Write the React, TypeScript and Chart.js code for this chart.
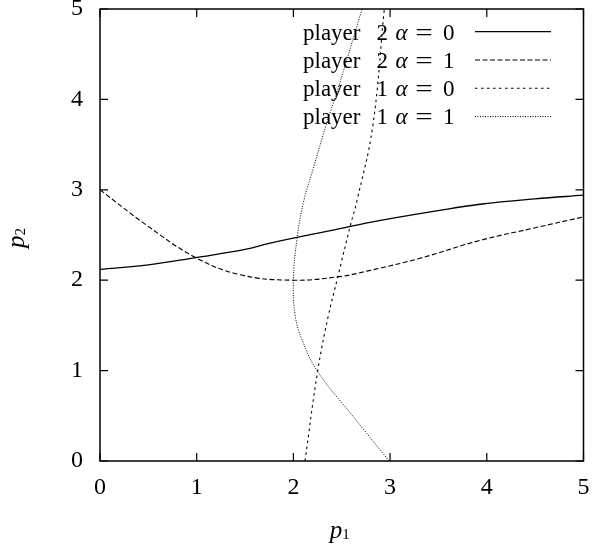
import React, { useEffect, useRef } from "react";
import { Chart, registerables } from "chart.js";

Chart.register(...registerables);

const xTicks = [0, 1, 2, 3, 4, 5];
const yTicks = [0, 1, 2, 3, 4, 5];

const p2a0X = [0, 0.5, 0.99, 1.5, 1.76, 2.48, 2.79, 3.5, 3.93, 4.5, 5];
const p2a0Y = [2.12, 2.17, 2.25, 2.34, 2.41, 2.57, 2.64, 2.77, 2.84, 2.9, 2.94];

const p2a1X = [0, 0.48, 0.99, 1.45, 2.0, 2.48, 2.76, 3.3, 3.93, 4.5, 5];
const p2a1Y = [3.0, 2.61, 2.25, 2.06, 2.0, 2.04, 2.1, 2.24, 2.44, 2.58, 2.7];

const p1a0X = [2.12, 2.25, 2.36, 2.46, 2.59, 2.66, 2.82, 2.94];
const p1a0Y = [0, 0.99, 1.6, 2.04, 2.61, 2.89, 3.7, 5.0];

const p1a1X = [2.99, 2.62, 2.25, 2.09, 2.02, 2.0, 2.04, 2.11, 2.19, 2.34, 2.47, 2.71];
const p1a1Y = [0, 0.49, 0.99, 1.34, 1.6, 2.0, 2.48, 2.89, 3.18, 3.72, 4.15, 5.0];

const seriesNames = ["player 2", "player 2", "player 1", "player 1"];
const alphaValues = ["0", "1", "0", "1"];

const SERIF = "'Liberation Serif', 'DejaVu Serif', serif";

function pts(xs: number[], ys: number[]) {
  return xs.map((x, i) => ({ x, y: ys[i] }));
}

const framePlugin = {
  id: "framePlugin",
  afterDatasetsDraw(chart: any) {
    const { ctx, chartArea: a, scales } = chart;
    ctx.save();
    ctx.strokeStyle = "#000";
    ctx.lineWidth = 1.5;
    ctx.setLineDash([]);
    ctx.strokeRect(a.left, a.top, a.right - a.left, a.bottom - a.top);
    ctx.lineWidth = 1.2;
    const tl = 8;
    ctx.beginPath();
    xTicks.forEach((v) => {
      const px = scales.x.getPixelForValue(v);
      ctx.moveTo(px, a.bottom);
      ctx.lineTo(px, a.bottom - tl);
      ctx.moveTo(px, a.top);
      ctx.lineTo(px, a.top + tl);
    });
    yTicks.forEach((v) => {
      const py = scales.y.getPixelForValue(v);
      ctx.moveTo(a.left, py);
      ctx.lineTo(a.left + tl, py);
      ctx.moveTo(a.right, py);
      ctx.lineTo(a.right - tl, py);
    });
    ctx.stroke();
    ctx.restore();
  },
  afterDraw(chart: any) {
    const { ctx, chartArea: a } = chart;
    ctx.save();
    ctx.fillStyle = "#000";
    ctx.textBaseline = "alphabetic";
    ctx.textAlign = "left";
    // x title p_1
    ctx.font = `italic 25px ${SERIF}`;
    const px0 = (a.left + a.right) / 2 - 12;
    ctx.fillText("p", px0, 537.5);
    const pw = ctx.measureText("p").width;
    ctx.font = `15px ${SERIF}`;
    ctx.fillText("1", px0 + pw, 539);
    // y title p_2 rotated
    ctx.save();
    ctx.translate(23.5, (a.top + a.bottom) / 2 + 13);
    ctx.rotate(-Math.PI / 2);
    ctx.font = `italic 25px ${SERIF}`;
    ctx.fillText("p", 0, 0);
    const pw2 = ctx.measureText("p").width;
    ctx.font = `15px ${SERIF}`;
    ctx.fillText("2", pw2, 1.5);
    ctx.restore();

    // legend
    const left = 303;
    const rowY0 = 31.7;
    const rowStep = 28.3;
    chart.data.datasets.forEach((ds: any, i: number) => {
      const y = rowY0 + i * rowStep;
      const base = y + 7.8;
      ctx.font = `23px ${SERIF}`;
      ctx.textAlign = "left";
      ctx.fillText("player", left, base);
      ctx.fillText(seriesNames[i].split(" ")[1], left + 73.5, base);
      ctx.font = `italic 23px ${SERIF}`;
      ctx.fillText("α", left + 92.5, base);
      ctx.font = `23px ${SERIF}`;
      ctx.textAlign = "center";
      ctx.save();
      ctx.translate(left + 121, base);
      ctx.scale(1.35, 1);
      ctx.fillText("=", 0, 0);
      ctx.restore();
      ctx.textAlign = "left";
      ctx.fillText(alphaValues[i], left + 140, base);
      ctx.beginPath();
      ctx.strokeStyle = "#000";
      ctx.lineWidth = ds.borderWidth;
      ctx.setLineDash(ds.borderDash || []);
      ctx.moveTo(475, y);
      ctx.lineTo(551, y);
      ctx.stroke();
    });
    ctx.restore();
  },
};

export default function App() {
  const ref = useRef<HTMLCanvasElement | null>(null);
  useEffect(() => {
    document.body.style.margin = "0";
    const canvas = ref.current;
    if (!canvas) return;
    const common = {
      showLine: true,
      pointRadius: 0,
      tension: 0.4,
      borderColor: "#000",
      backgroundColor: "#000",
      fill: false,
    };
    const chart = new Chart(canvas, {
      type: "scatter",
      data: {
        datasets: [
          { ...common, label: "player 2 α = 0", data: pts(p2a0X, p2a0Y), borderWidth: 1.3, borderDash: [] },
          { ...common, label: "player 2 α = 1", data: pts(p2a1X, p2a1Y), borderWidth: 1.1, borderDash: [5, 2.5] },
          { ...common, label: "player 1 α = 0", data: pts(p1a0X, p1a0Y), borderWidth: 1.1, borderDash: [2.5, 3.5] },
          { ...common, label: "player 1 α = 1", data: pts(p1a1X, p1a1Y), borderWidth: 1, borderDash: [1, 1.5] },
        ],
      },
      options: {
        responsive: false,
        animation: false,
        devicePixelRatio: 1,
        layout: { padding: { top: 9, right: 24.5, left: 0, bottom: 0 } },
        plugins: { legend: { display: false }, tooltip: { enabled: false }, title: { display: false } },
        scales: {
          x: {
            type: "linear",
            min: 0,
            max: 5,
            afterFit: (s: any) => {
              s.height = 89;
              s.paddingLeft = 0;
              s.paddingRight = 0;
            },
            afterBuildTicks: (s: any) => { s.ticks = xTicks.map((v) => ({ value: v })); },
            ticks: { color: "#000", font: { family: SERIF, size: 24 }, padding: 4, maxRotation: 0 },
            grid: { display: false },
            border: { display: false },
          },
          y: {
            type: "linear",
            min: 0,
            max: 5,
            afterFit: (s: any) => {
              s.width = 100;
              s.paddingTop = 0;
              s.paddingBottom = 0;
            },
            afterBuildTicks: (s: any) => { s.ticks = yTicks.map((v) => ({ value: v })); },
            ticks: { color: "#000", font: { family: SERIF, size: 24 }, padding: 9 },
            grid: { display: false },
            border: { display: false },
          },
        },
      },
      plugins: [framePlugin],
    } as any);
    return () => chart.destroy();
  }, []);
  return <canvas ref={ref} width={608} height={550} style={{ display: "block" }} />;
}
